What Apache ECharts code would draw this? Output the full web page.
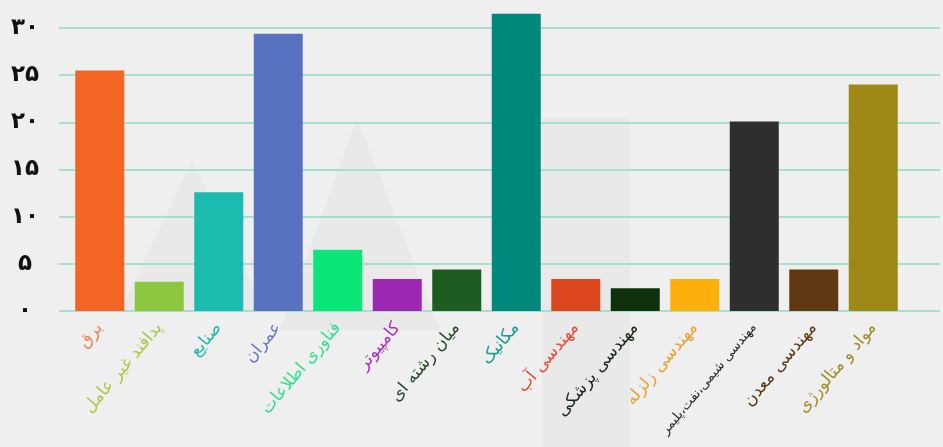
<!DOCTYPE html>
<html>
<head>
<meta charset="utf-8">
<script src="https://cdn.jsdelivr.net/npm/echarts@6/dist/echarts.min.js"></script>
<style>
html,body{margin:0;padding:0;background:#efefef;}
#c{width:943px;height:447px;}
</style>
</head>
<body>
<div id="c"></div>
<script>
const categories = ['برق','پدافند غیر عامل','صنایع','عمران','فناوری اطلاعات','کامپیوتر','میان رشته ای','مکانیک','مهندسی آب','مهندسی پزشکی','مهندسی زلزله','مهندسی شیمی،نفت،پلیمر','مهندسی معدن','مواد و متالورژی'];
const values = [25.5, 3.1, 12.6, 29.4, 6.5, 3.4, 4.4, 31.5, 3.4, 2.4, 3.4, 20.1, 4.4, 24];
const yTickValues = [0, 5, 10, 15, 20, 25, 30];
const yTickLabels = ['۰','۵','۱۰','۱۵','۲۰','۲۵','۳۰'];

const barColors = ['#f26522','#8dc63f','#1bbbb0','#5773bf','#0be57a','#9c27b0','#1e5c22','#00897b','#dc461c','#0e300a','#fdaf0b','#2e2e2e','#603813','#a08816'];
const labelColors = ['#f0845a','#a6c94a','#22b8aa','#6a7cc4','#33e08c','#b030c0','#2c4a2c','#1a9a8c','#e2503a','#1c2a1c','#e8a235','#2a2a2a','#5e3c1c','#a08c28'];
const labelSizes = [17,17,17,17,17,17,17,17,17,17,17,13,17,17];

const chart = echarts.init(document.getElementById('c'));
const font = 'DejaVu Sans';
const fill = 'rgba(0,0,0,0.022)';

chart.setOption({
  backgroundColor: '#efefef',
  animation: false,
  graphic: [
    {type:'polygon', z:-10, shape:{points:[[192,160],[120,311],[265,311]]}, style:{fill:fill}},
    {type:'polygon', z:-10, shape:{points:[[357,118],[280,330],[440,330]]}, style:{fill:fill}},
    {type:'rect', z:-10, shape:{x:542,y:118,width:88,height:329}, style:{fill:fill}}
  ],
  grid: [
    {left: 59, right: 3, top: 28, bottom: 136},
    {left: 70, right: 40, top: 28, bottom: 136}
  ],
  xAxis: [
    {gridIndex:0, type:'category', data:categories, show:false},
    {gridIndex:1, type:'category', data: categories.map((c,i)=>({value:c, textStyle:{color:labelColors[i], fontSize:labelSizes[i]}})),
     axisLine:{show:false}, axisTick:{show:false},
     axisLabel:{interval:0, rotate:50, margin:14, fontFamily:font, fontSize:17}}
  ],
  yAxis: [
    {gridIndex:0, type:'value', min:0, max:30, interval:5,
     axisLine:{show:false}, axisTick:{show:false},
     splitLine:{show:true, lineStyle:{color:'#a6e0cc', width:2}},
     axisLabel:{align:'center', margin:34, color:'#111', fontSize:23, fontWeight:'bold', fontFamily:font,
       formatter: v => { const i = yTickValues.indexOf(v); return i >= 0 ? yTickLabels[i] : ''; }}},
    {gridIndex:1, type:'value', min:0, max:30, interval:5, show:false, splitLine:{show:false}}
  ],
  series: [{
    type:'bar', xAxisIndex:1, yAxisIndex:1, barWidth:49, clip:false,
    data: values.map((v,i)=>({value:v, itemStyle:{color:barColors[i]}}))
  }]
});
</script>
</body>
</html>
